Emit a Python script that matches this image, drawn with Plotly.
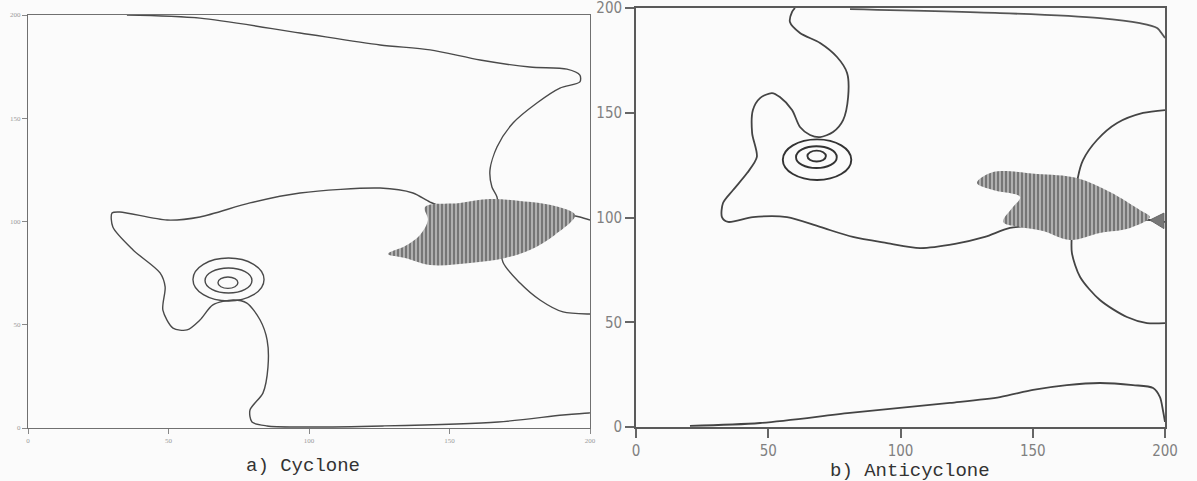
import plotly.graph_objects as go

W, H = 1197, 481

# ---------------- Panel a) Cyclone ----------------
cyc_top_x = [35.2, 61.2, 96.8, 125.3, 143.1, 160.9, 178.6, 191.8, 196.4, 196.4, 189.3, 181.1,
             172.6, 166.9, 164.4, 165.1, 166.9, 168.0, 169.0, 175.1, 182.2, 190.4, 199.6, 200]
cyc_top_y = [200, 198.5, 191.3, 185.5, 183.1, 178.2, 174.8, 173.8, 170.9, 167.6, 164.6, 157.4,
             147.7, 136.1, 124.9, 116.7, 111.9, 95.9, 80.4, 70.2, 62.0, 56.2, 55.2, 55.2]

cyc_body_x = [200, 196.4, 189.3, 168.0, 149.1, 143.1, 137.0, 125.3, 96.8, 79.0, 61.2, 49.5,
              32.7, 29.9, 30.2, 37.4, 47.0, 48.8, 48.0, 51.6, 56.6, 61.2, 65.8, 73.0, 77.9,
              82.6, 85.1, 85.4, 83.6, 79.0, 79.7, 85.1, 96.8, 126.3, 167.3, 190.4, 199.6, 200]
cyc_body_y = [100.7, 102.2, 104.1, 106.5, 106.5, 109.4, 113.8, 116.2, 113.8, 109.0, 102.2, 100.7,
              104.6, 104.1, 97.3, 86.2, 75.1, 68.3, 57.1, 48.4, 47.5, 52.3, 59.6, 62.0, 60.5,
              52.3, 42.6, 29.5, 16.9, 8.7, 2.9, 1.0, 0.5, 1.0, 2.9, 6.3, 7.3, 7.3]

# closed rings around the cyclone centre (x extent, y extent)
cyc_ring_x0 = [58.7, 63.0, 67.6]
cyc_ring_x1 = [84.0, 79.7, 74.7]
cyc_ring_y0 = [61.5, 65.4, 67.6]
cyc_ring_y1 = [82.3, 77.5, 73.1]

cyc_shade_x = [141.3, 153.7, 164.4, 175.1, 187.5, 194.7, 187.5, 178.6, 169.8, 157.3, 143.1,
               134.2, 128.1, 134.2, 139.5, 142.3]
cyc_shade_y = [107.0, 109.0, 110.9, 109.9, 107.5, 103.1, 93.5, 86.2, 82.3, 79.9, 78.9,
               82.3, 84.3, 88.1, 93.5, 100.7]

# ---------------- Panel b) Anticyclone ----------------
anti_stem_x = [60.1, 59.0, 58.2, 62.0, 69.6, 76.0, 79.8, 80.2, 78.3, 74.5, 69.6, 65.8, 62.0,
               59.0, 54.4, 51.4, 46.9, 44.2, 43.9, 45.7, 42.0, 36.7, 32.9, 32.5, 34.8, 44.2,
               57.1, 69.6, 82.0, 94.9, 107.4, 120.6, 131.9, 141.4, 156.5, 175.4, 194.3, 199.2, 200]
anti_stem_y = [200, 198.1, 193.3, 188.1, 183.3, 176.6, 169.0, 157.5, 146.5, 140.8, 138.4, 139.4, 143.2,
               151.3, 157.5, 159.4, 157.0, 151.3, 140.3, 128.9, 121.2, 113.1, 106.9, 100.2, 97.9, 100.2,
               100.2, 95.5, 90.7, 87.8, 85.4, 87.4, 90.7, 95.0, 96.4, 97.9, 98.8, 97.9, 97.9]

anti_top_x = [80.9, 137.6, 175.4, 190.5, 197.0, 199.2, 200]
anti_top_y = [199.5, 197.6, 195.2, 192.8, 190.5, 187.1, 185.7]

anti_arc_x = [200, 191.7, 181.9, 174.3, 169.0, 167.1, 166.7, 165.6, 164.8, 164.8, 167.9,
              175.4, 185.6, 193.2, 200]
anti_arc_y = [151.3, 149.9, 145.1, 137.0, 127.4, 119.3, 114.6, 103.6, 92.6, 83.1, 71.6,
              60.6, 52.5, 49.6, 49.6]

anti_bot_x = [20.4, 46.9, 80.9, 118.7, 137.6, 150.1, 162.9, 175.4, 187.9, 195.5, 198.1, 199.2, 200]
anti_bot_y = [0.5, 1.9, 6.7, 11.5, 14.3, 17.7, 20.0, 21.0, 20.0, 18.6, 14.3, 8.1, 2.4]

anti_ring_x0 = [55.5, 60.5, 64.8]
anti_ring_x1 = [81.4, 75.9, 71.8]
anti_ring_y0 = [117.9, 123.6, 126.7]
anti_ring_y1 = [137.3, 134.0, 131.9]

anti_shade_x = [128.9, 135.0, 151.6, 166.7, 179.2, 190.5, 194.3, 186.8, 175.4, 164.1, 153.9,
                145.2, 138.8, 142.2, 145.2, 135.0]
anti_shade_y = [116.5, 121.7, 120.8, 118.9, 112.2, 103.6, 100.2, 95.0, 92.6, 89.3, 93.6,
                95.5, 97.9, 104.5, 109.8, 113.1]

anti_wedge_x = [199.6, 194.3, 199.6]
anti_wedge_y = [102.1, 98.8, 94.7]

axis_ticks = [0, 50, 100, 150, 200]
axis_labels = ["0", "50", "100", "150", "200"]

fig = go.Figure()

def curve(x, y, xa, ya, color, width):
    fig.add_trace(go.Scatter(x=x, y=y, xaxis=xa, yaxis=ya, mode="lines",
                             line=dict(color=color, width=width, shape="spline", smoothing=0.8),
                             hoverinfo="skip", showlegend=False))

def shade(x, y, xa, ya):
    fig.add_trace(go.Scatter(x=x + x[:1], y=y + y[:1], xaxis=xa, yaxis=ya, mode="lines",
                             fill="toself", fillcolor="#a8a8a8",
                             fillpattern=dict(shape="|", fgcolor="#3c3c3c", bgcolor="#b0b0b0",
                                              size=4, solidity=0.5),
                             line=dict(width=0, color="rgba(0,0,0,0)", shape="spline"),
                             hoverinfo="skip", showlegend=False))

curve(cyc_top_x, cyc_top_y, "x", "y", "#4a4a4a", 1.4)
curve(cyc_body_x, cyc_body_y, "x", "y", "#4a4a4a", 1.4)
shade(cyc_shade_x, cyc_shade_y, "x", "y")

curve(anti_stem_x, anti_stem_y, "x2", "y2", "#444", 1.8)
curve(anti_top_x, anti_top_y, "x2", "y2", "#555", 1.8)
curve(anti_arc_x, anti_arc_y, "x2", "y2", "#444", 1.8)
curve(anti_bot_x, anti_bot_y, "x2", "y2", "#444", 1.8)
shade(anti_shade_x, anti_shade_y, "x2", "y2")
fig.add_trace(go.Scatter(x=anti_wedge_x + anti_wedge_x[:1], y=anti_wedge_y + anti_wedge_y[:1],
                         xaxis="x2", yaxis="y2", mode="lines", fill="toself",
                         fillcolor="#777", line=dict(width=1, color="#666"),
                         hoverinfo="skip", showlegend=False))

shapes = []
for x0, x1, y0, y1 in zip(cyc_ring_x0, cyc_ring_x1, cyc_ring_y0, cyc_ring_y1):
    shapes.append(dict(type="circle", xref="x", yref="y", x0=x0, x1=x1, y0=y0, y1=y1,
                       line=dict(color="#4a4a4a", width=1.4)))
for x0, x1, y0, y1 in zip(anti_ring_x0, anti_ring_x1, anti_ring_y0, anti_ring_y1):
    shapes.append(dict(type="circle", xref="x2", yref="y2", x0=x0, x1=x1, y0=y0, y1=y1,
                       line=dict(color="#333", width=1.9)))

small_axis = dict(range=[0, 200], showline=True, mirror=True, linecolor="#707070", linewidth=1.4,
                  ticks="outside", ticklen=5, tickwidth=1, tickcolor="#888",
                  tickvals=axis_ticks, ticktext=axis_labels,
                  tickfont=dict(size=7, color="#9a9a9a", family="Liberation Serif"),
                  showgrid=False, zeroline=False, fixedrange=True, automargin=False,
                  ticklabeloverflow="allow")
big_axis = dict(range=[0, 200], showline=True, mirror=True, linecolor="#5a5a5a", linewidth=1.8,
                ticks="outside", tickwidth=1.5, tickcolor="#666",
                tickvals=axis_ticks, ticktext=axis_labels,
                tickfont=dict(size=15, color="#808080",
                              family="Liberation Sans Narrow, DejaVu Sans Condensed, sans-serif"),
                showgrid=False, zeroline=False, fixedrange=True, automargin=False,
                ticklabeloverflow="allow")

fig.update_layout(
    width=W, height=H,
    margin=dict(l=0, r=0, t=0, b=0, autoexpand=False),
    paper_bgcolor="#fbfbfb", plot_bgcolor="#fbfbfb",
    showlegend=False,
    xaxis=dict(small_axis, domain=[28 / W, 590 / W], anchor="y"),
    yaxis=dict(small_axis, domain=[1 - 428 / H, 1 - 15 / H], anchor="x"),
    xaxis2=dict(big_axis, domain=[636 / W, 1165 / W], anchor="y2", ticklen=9),
    yaxis2=dict(big_axis, domain=[1 - 427 / H, 1 - 8 / H], anchor="x2", ticklen=9),
    shapes=shapes,
    annotations=[
        dict(text="a) Cyclone", xref="paper", yref="paper", x=303 / W, y=1 - 466 / H,
             xanchor="center", yanchor="middle", showarrow=False,
             font=dict(family="Liberation Mono, Courier New, monospace", size=19, color="#333")),
        dict(text="b) Anticyclone", xref="paper", yref="paper", x=910 / W, y=1 - 471 / H,
             xanchor="center", yanchor="middle", showarrow=False,
             font=dict(family="Liberation Mono, Courier New, monospace", size=19, color="#333")),
    ],
)

fig.write_html("out.html", config={"displayModeBar": False},
               post_script="document.body.style.margin='0';document.body.style.overflow='hidden';")
